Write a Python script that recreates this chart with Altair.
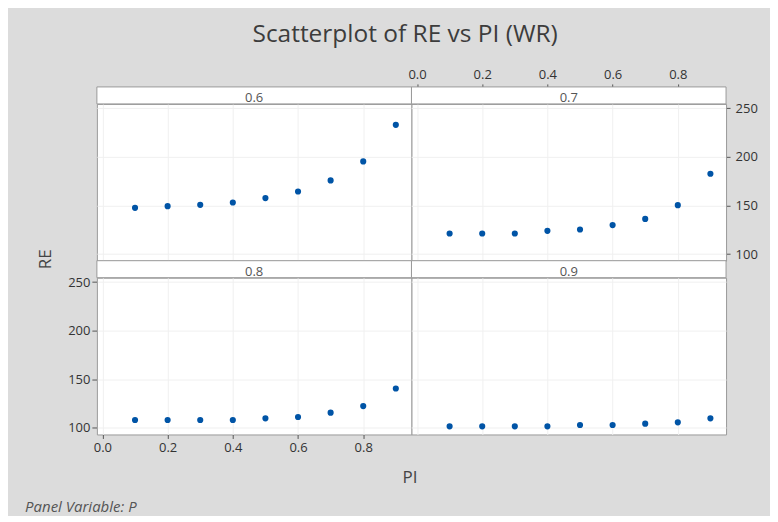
import altair as alt
import pandas as pd

# ---- data ----
PI = [0.1, 0.2, 0.3, 0.4, 0.5, 0.6, 0.7, 0.8, 0.9]
RE_P06 = [147.7, 149.4, 150.8, 153.2, 157.7, 164.5, 175.9, 195.4, 233.1]
RE_P07 = [121.3, 121.3, 121.3, 124.0, 125.4, 129.9, 136.3, 150.4, 182.7]
RE_P08 = [108.2, 108.2, 108.2, 108.2, 109.9, 111.3, 115.7, 122.5, 140.6]
RE_P09 = [101.7, 101.7, 101.7, 101.7, 103.0, 103.0, 104.4, 105.8, 109.9]
PANELS = ["0.6", "0.7", "0.8", "0.9"]
X_TICKS = [0.0, 0.2, 0.4, 0.6, 0.8]
Y_TICKS = [100, 150, 200, 250]

W, H, HDR = 315, 157, 17
FONT = "Open Sans"
DOT = "#0054a6"
BORDER = "#9a9a9a"

xscale = alt.Scale(domain=[-0.017, 0.948], nice=False, zero=False)
yscale = alt.Scale(domain=[93.3, 254.6], nice=False, zero=False)


def grid_axis(values):
    return alt.Axis(values=values, labels=False, ticks=False, domain=False,
                    grid=True, title=None)


def panel(label, re, xaxis, yaxis):
    df = pd.DataFrame({"PI": PI, "RE": re})
    pts = alt.Chart(df).mark_circle(size=38, color=DOT, opacity=1).encode(
        x=alt.X("PI:Q", scale=xscale, axis=xaxis),
        y=alt.Y("RE:Q", scale=yscale, axis=yaxis),
    )
    hdr_df = pd.DataFrame({"P": [label]})
    hdr = alt.Chart(hdr_df).mark_rect(fill="white", stroke=BORDER, strokeWidth=1).encode(
        x=alt.value(0), x2=alt.value(W), y=alt.value(-HDR), y2=alt.value(0)
    )
    txt = alt.Chart(hdr_df).mark_text(font=FONT, fontSize=13, color="#555",
                                      baseline="alphabetic", align="center").encode(
        x=alt.value(W / 2), y=alt.value(-1.5), text="P:N"
    )
    return alt.layer(pts, hdr, txt).properties(width=W, height=H)


tl = panel(PANELS[0], RE_P06, grid_axis(X_TICKS), grid_axis(Y_TICKS))
tr = panel(
    PANELS[1], RE_P07,
    alt.Axis(values=X_TICKS, orient="top", offset=HDR, grid=True, title=None,
             format=".1f", tickSize=3, labelPadding=2, domain=False),
    alt.Axis(values=Y_TICKS, orient="right", grid=True, title=None,
             tickSize=4, labelPadding=5, domain=False),
)
bl = panel(
    PANELS[2], RE_P08,
    alt.Axis(values=X_TICKS, orient="bottom", grid=True, title="PI",
             format=".1f", tickSize=4, labelPadding=3, domain=False,
             titleX=313, titleY=43, titleAlign="center", titleBaseline="middle"),
    alt.Axis(values=Y_TICKS, orient="left", grid=True, title="RE",
             tickSize=5, labelPadding=2, domain=False,
             titleX=-51, titleY=-19, titleAlign="center", titleBaseline="middle",
             titleAngle=270),
)
br = panel(PANELS[3], RE_P09, grid_axis(X_TICKS), grid_axis(Y_TICKS))

grid = alt.concat(tl, tr, bl, br, columns=2, bounds="flush",
                  spacing={"row": HDR, "column": 0}).properties(
    title=alt.TitleParams("Panel Variable: P", orient="bottom", anchor="start",
                          font=FONT, fontSize=15, fontStyle="italic",
                          fontWeight="normal", color="#555", offset=14, dx=-11.4)
)

chart = alt.vconcat(grid, spacing=0).properties(
    title=alt.TitleParams("Scatterplot of RE vs PI (WR)", anchor="middle",
                          font=FONT, fontSize=24.5, fontWeight="normal",
                          color="#3c3c3c", offset=21, dx=13.7),
    background="#dcdcdc",
    padding={"left": 17, "top": 13.7, "right": 12, "bottom": 0},
).configure_view(
    fill="white", stroke=BORDER, strokeWidth=1
).configure_axis(
    labelFont=FONT, labelFontSize=13, labelColor="#333",
    titleFont=FONT, titleFontSize=17, titleColor="#444", titleFontWeight="normal",
    tickColor="#555", gridColor="#f0f0f0", gridWidth=1,
)

chart.save("out.html", embed_options={"renderer": "svg", "actions": False})
